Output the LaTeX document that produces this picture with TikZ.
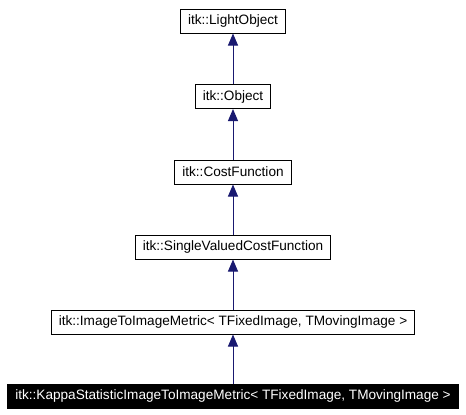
\documentclass[tikz,border=0pt]{standalone}
\usepackage{fontspec}
\setmainfont{Liberation Sans}
\usetikzlibrary{arrows.meta}
\definecolor{edgeblue}{HTML}{191970}
\begin{document}
\begin{tikzpicture}[x=1pt,y=-1pt,
  cls/.style={draw=black,fill=white,line width=1pt,minimum height=24pt,inner xsep=7.5pt,inner ysep=0pt,font=\fontsize{13.6}{16}\selectfont,text=black},
  cur/.style={cls,fill=black,text=white},
  inh/.style={draw=edgeblue,line width=1pt,-{Triangle[width=10pt,length=12pt]},color=edgeblue}]
\useasboundingbox (0,0) rectangle (466,415);
\node[cls] (lo) at (233,21) {itk::LightObject};
\node[cls] (ob) at (233,96.5) {itk::Object};
\node[cls] (cf) at (233,172) {itk::CostFunction};
\node[cls] (sv) at (233,247) {itk::SingleValuedCostFunction};
\node[cls] (im) at (233,322) {itk::ImageToImageMetric< TFixedImage, TMovingImage >};
\node[cur] (ka) at (233,396) {itk::KappaStatisticImageToImageMetric< TFixedImage, TMovingImage >};
\draw[inh] (ob.north) -- (lo.south);
\draw[inh] (cf.north) -- (ob.south);
\draw[inh] (sv.north) -- (cf.south);
\draw[inh] (im.north) -- (sv.south);
\draw[inh] (ka.north) -- (im.south);
\end{tikzpicture}
\end{document}
